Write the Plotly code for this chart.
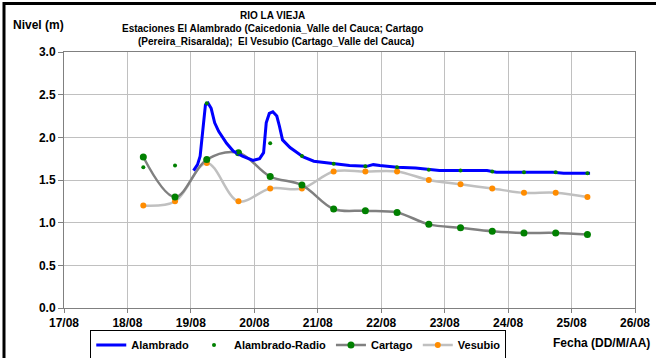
import plotly.graph_objects as go

# ---------------- data ----------------
alambrado_t = ["2010-08-19 01:00", "2010-08-19 02:30", "2010-08-19 03:30", "2010-08-19 05:30",
               "2010-08-19 06:30", "2010-08-19 07:40", "2010-08-19 09:00", "2010-08-19 10:30",
               "2010-08-19 13:30", "2010-08-19 16:00", "2010-08-19 19:30", "2010-08-19 23:30",
               "2010-08-20 02:00", "2010-08-20 03:30", "2010-08-20 04:30", "2010-08-20 05:40",
               "2010-08-20 07:00", "2010-08-20 08:30", "2010-08-20 09:30", "2010-08-20 10:40",
               "2010-08-20 13:30", "2010-08-20 18:30", "2010-08-20 22:30", "2010-08-21 05:00",
               "2010-08-21 12:00", "2010-08-21 18:30", "2010-08-21 21:00", "2010-08-21 23:30",
               "2010-08-22 06:00", "2010-08-22 13:00", "2010-08-22 18:00", "2010-08-22 22:00",
               "2010-08-23 06:00", "2010-08-23 16:00", "2010-08-23 19:30", "2010-08-24 04:30",
               "2010-08-24 17:00", "2010-08-24 21:00", "2010-08-25 07:00"]
alambrado_v = [1.61, 1.68, 1.78, 2.38, 2.40, 2.34, 2.17, 2.07,
               1.93, 1.84, 1.78, 1.73, 1.75, 1.82, 2.17, 2.28,
               2.30, 2.25, 2.13, 1.97, 1.88, 1.77, 1.72, 1.70,
               1.67, 1.66, 1.68, 1.67, 1.65, 1.64, 1.62, 1.61,
               1.61, 1.61, 1.59, 1.59, 1.59, 1.58, 1.58]

station_t = ["2010-08-18 06:00", "2010-08-18 18:00", "2010-08-19 06:00", "2010-08-19 18:00",
             "2010-08-20 06:00", "2010-08-20 18:00", "2010-08-21 06:00", "2010-08-21 18:00",
             "2010-08-22 06:00", "2010-08-22 18:00", "2010-08-23 06:00", "2010-08-23 18:00",
             "2010-08-24 06:00", "2010-08-24 18:00", "2010-08-25 06:00"]
radio_v = [1.65, 1.67, 2.40, 1.82, 1.93, 1.78, 1.69, 1.66, 1.65, 1.62, 1.61, 1.60, 1.59, 1.59, 1.58]
cartago_v = [1.77, 1.30, 1.74, 1.82, 1.54, 1.44, 1.16, 1.14, 1.12, 0.98, 0.94, 0.90, 0.88, 0.88, 0.86]
vesubio_v = [1.20, 1.25, 1.70, 1.25, 1.40, 1.40, 1.60, 1.60, 1.60, 1.50, 1.45, 1.40, 1.35, 1.35, 1.30]

x_range = ["2010-08-17", "2010-08-26"]
title_lines = ["RIO LA VIEJA",
               "Estaciones El Alambrado (Caicedonia_Valle del Cauca; Cartago",
               "(Pereira_Risaralda);  El Vesubio (Cartago_Valle del Cauca)"]

FONT = "Liberation Sans, Arial, sans-serif"

fig = go.Figure()
fig.add_trace(go.Scatter(x=station_t, y=vesubio_v, name="Vesubio", mode="lines+markers",
                         line=dict(color="#c0c0c0", width=2.5, shape="spline", smoothing=1.0),
                         marker=dict(color="#ff8c00", size=6), legendrank=4))
fig.add_trace(go.Scatter(x=station_t, y=cartago_v, name="Cartago", mode="lines+markers",
                         line=dict(color="#808080", width=2.5, shape="spline", smoothing=1.0),
                         marker=dict(color="#008000", size=7), legendrank=3))
fig.add_trace(go.Scatter(x=alambrado_t, y=alambrado_v, name="Alambrado", mode="lines",
                         line=dict(color="#0000ff", width=3), legendrank=1))
fig.add_trace(go.Scatter(x=station_t, y=radio_v, name="Alambrado-Radio", mode="markers",
                         marker=dict(color="#008000", size=4), legendrank=2))

# plot area in pixels: x 64..635, y 52..308
fig.update_layout(
    width=656, height=358,
    margin=dict(l=64, r=21, t=52, b=50, autoexpand=False),
    paper_bgcolor="white", plot_bgcolor="white",
    font=dict(family=FONT, size=10, color="black"),
    showlegend=True,
    legend=dict(orientation="h", x=0.046, y=-0.084, xanchor="left", yanchor="top",
                bordercolor="black", borderwidth=1, bgcolor="white",
                font=dict(family=FONT, size=11, color="black", weight="bold"),
                itemwidth=30, tracegroupgap=0, traceorder="normal"),
    xaxis=dict(type="date", range=x_range, dtick=86400000, tickformat="%d/%m",
               showgrid=True, gridcolor="#c0c0c0", gridwidth=1,
               showline=True, linecolor="#808080", linewidth=1, mirror=True,
               ticks="outside", ticklen=4, tickcolor="#808080",
               tickfont=dict(family=FONT, size=12, color="black", weight="bold"),
               zeroline=False),
    yaxis=dict(range=[0, 3], dtick=0.5, tickformat=".1f",
               showgrid=True, gridcolor="#c0c0c0", gridwidth=1,
               showline=True, linecolor="#808080", linewidth=1, mirror=True,
               ticks="outside", ticklen=5, tickcolor="#808080",
               tickfont=dict(family=FONT, size=12, color="black", weight="bold"),
               zeroline=False),
)

def px_x(p):
    return (p - 64) / 571.0

def px_y(p):
    return (308 - p) / 256.0

# title lines
for txt, cy, cx in zip(title_lines, [15, 28, 41], [272, 272, 276]):
    fig.add_annotation(text=txt, xref="paper", yref="paper", x=px_x(cx), y=px_y(cy),
                       xanchor="center", yanchor="middle", showarrow=False,
                       font=dict(family=FONT, size=10, color="black", weight="bold"))

fig.add_annotation(text="Nivel (m)", xref="paper", yref="paper", x=px_x(11), y=px_y(25),
                   xanchor="left", yanchor="middle", showarrow=False,
                   font=dict(family=FONT, size=12, color="black", weight="bold"))
fig.add_annotation(text="Fecha (DD/M/AA)", xref="paper", yref="paper", x=px_x(652), y=px_y(343),
                   xanchor="right", yanchor="middle", showarrow=False,
                   font=dict(family=FONT, size=12, color="black", weight="bold"))

# outer black frame (top and left visible)
fig.add_shape(type="line", xref="paper", yref="paper", x0=px_x(4), x1=px_x(700),
              y0=px_y(3.5), y1=px_y(3.5), line=dict(color="black", width=3))
fig.add_shape(type="line", xref="paper", yref="paper", x0=px_x(4), x1=px_x(4),
              y0=px_y(2), y1=px_y(400), line=dict(color="black", width=3))

fig.write_html("out.html", config={"displayModeBar": False},
               post_script="document.body.style.margin='0px';")
